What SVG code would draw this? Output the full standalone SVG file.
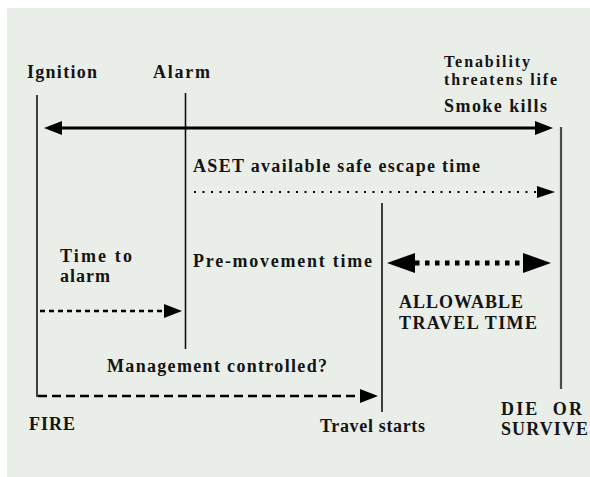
<svg xmlns="http://www.w3.org/2000/svg" width="590" height="477" viewBox="0 0 590 477">
<style>
text{font-family:"Liberation Serif","Times New Roman",serif;font-weight:bold;font-size:18px;fill:#141414}
.sm{font-size:16px}
.v{stroke:#111;stroke-width:1.6;fill:none}
.vr{stroke:#4a4a4a;stroke-width:2.2;fill:none}
.solid{stroke:#000;stroke-width:3;fill:none}
.dot{stroke:#000;stroke-width:2;stroke-dasharray:2 6.5;fill:none}
.dash1{stroke:#000;stroke-width:2.6;stroke-dasharray:5 4;fill:none}
.dash2{stroke:#000;stroke-width:2.6;stroke-dasharray:9 5;fill:none}
.bold{stroke:#000;stroke-width:5;stroke-dasharray:4.5 5.5;fill:none}
</style>
<defs>
<marker id="a18" viewBox="0 -10 20 20" markerWidth="20" markerHeight="20" refX="0" refY="0" markerUnits="userSpaceOnUse" orient="auto-start-reverse"><path d="M0,-7 L18,0 L0,7 Z" fill="#000"/></marker>
<marker id="a18s" viewBox="0 -10 20 20" markerWidth="20" markerHeight="20" refX="0" refY="0" markerUnits="userSpaceOnUse" orient="auto-start-reverse"><path d="M0,-6 L18,0 L0,6 Z" fill="#000"/></marker>
<marker id="a28" viewBox="0 -12 30 24" markerWidth="30" markerHeight="24" refX="0" refY="0" markerUnits="userSpaceOnUse" orient="auto-start-reverse"><path d="M0,-10 L28,0 L0,10 Z" fill="#000"/></marker>
</defs>
<rect x="7" y="8" width="583" height="469" fill="#E9EEE9"/>
<g id="ignition"><text x="27" y="78" textLength="70" lengthAdjust="spacing">Ignition</text><line class="v" x1="37" y1="95" x2="37" y2="397"/></g>
<g id="alarm"><text x="153" y="78" textLength="57" lengthAdjust="spacing">Alarm</text><line class="v" x1="185.5" y1="93" x2="185.5" y2="349"/></g>
<g id="tenability"><text class="sm" x="444" y="67" textLength="86" lengthAdjust="spacing">Tenability</text><text class="sm" x="444" y="85" textLength="113" lengthAdjust="spacing">threatens life</text><text x="444" y="112" textLength="103" lengthAdjust="spacing">Smoke kills</text><line class="vr" x1="561" y1="127" x2="561" y2="389"/></g>
<g id="aset-label"><text x="193" y="172" textLength="287" lengthAdjust="spacing">ASET available safe escape time</text></g>
<g id="time-to-alarm"><text x="60" y="262" textLength="72" lengthAdjust="spacing">Time to</text><text x="60" y="282" textLength="50" lengthAdjust="spacing">alarm</text></g>
<g id="pre-movement"><text x="193" y="267" textLength="179" lengthAdjust="spacing">Pre-movement time</text></g>
<g id="allowable"><text x="399" y="308" textLength="124" lengthAdjust="spacing">ALLOWABLE</text><text x="399" y="329" textLength="138" lengthAdjust="spacing">TRAVEL TIME</text></g>
<g id="management"><text x="107" y="372" textLength="220" lengthAdjust="spacing">Management controlled?</text></g>
<g id="travel-starts"><line class="v" x1="382" y1="203" x2="382" y2="412"/><text x="320" y="432" textLength="105" lengthAdjust="spacing">Travel starts</text></g>
<g id="fire"><text x="29" y="430" textLength="46" lengthAdjust="spacing">FIRE</text></g>
<g id="die-or-survive"><text x="501" y="415" textLength="81" lengthAdjust="spacing" xml:space="preserve">DIE  OR</text><text x="501" y="435" textLength="87" lengthAdjust="spacing">SURVIVE</text></g>
<g id="connectors">
<line class="solid" x1="62" y1="128" x2="535" y2="128" marker-start="url(#a18)" marker-end="url(#a18)"/>
<line class="dot" x1="194" y1="192" x2="537" y2="192" marker-end="url(#a18s)"/>
<line class="dash1" x1="40" y1="311" x2="164" y2="311" marker-end="url(#a18)"/>
<line class="dash2" x1="38" y1="396" x2="360" y2="396" marker-end="url(#a18)"/>
<line class="bold" x1="415" y1="263" x2="523" y2="263" marker-start="url(#a28)" marker-end="url(#a28)"/>
</g>
</svg>
